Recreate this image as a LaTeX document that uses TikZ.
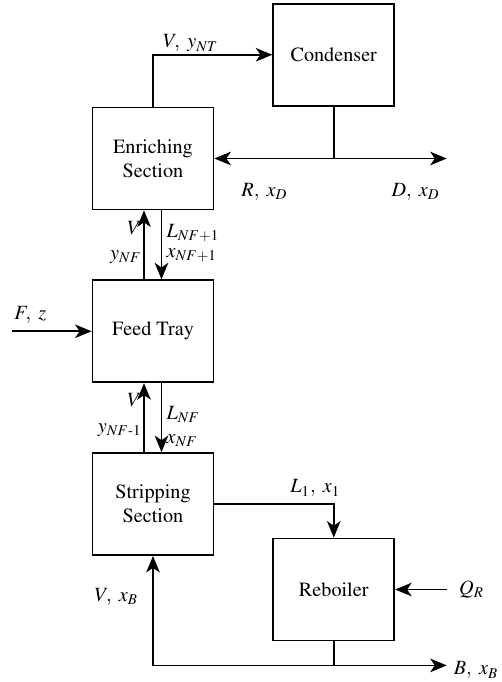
\documentclass[tikz,border=0pt]{standalone}
\usepackage{amsmath}
\usepackage[T1]{fontenc}
\usepackage{mathptmx}
\usetikzlibrary{positioning,arrows.meta}

\begin{document}
\begin{tikzpicture}[node distance=1.38cm, >={Stealth[length=3.3mm,width=2.7mm,inset=0.9mm]},
    block/.style={draw, rectangle, line width=1pt, minimum width=2.42cm, minimum height=2.04cm,
      align=center, inner sep=2pt, font=\fontsize{11.5}{13.5}\selectfont},
    lbl/.style={inner sep=1pt, font=\fontsize{11.5}{13.5}\selectfont},
    flow/.style={->, line width=1pt}]
  \useasboundingbox (-3.06,-10.47) rectangle (6.98,3.17);

  % Nodes
  \node [block] (enrich) {Enriching\\Section};
  \node [block, above right=0cm and 1.16cm of enrich] (cond) {Condenser};
  \node [block, below=of enrich] (feed) {Feed Tray};
  \node [block, below=of feed] (strip) {Stripping\\Section};
  \node [block, right=1.16cm of strip, yshift=-1.71cm] (reb) {Reboiler};

  % Junctions and open ends
  \coordinate (top) at (cond.south |- enrich.east);
  \coordinate [right=2.26cm of top] (dout);
  \coordinate [left=1.6cm of feed] (fin);
  \coordinate [right=1.04cm of reb] (qin);
  \coordinate [below=0.48cm of reb] (bot);
  \coordinate [right=2.26cm of bot] (bout);

  % Arrows
  \draw [flow] (enrich.north) |- node[lbl, pos=0.5, above right, xshift=0.15cm] {$V,\ y_{NT}$} (cond.west);
  \draw [line width=1pt] (cond.south) -- (top);
  \draw [flow] (top) -- (enrich.east);
  \draw [flow] (top) -- (dout);
  \node [lbl, below right=0.45cm and 0.5cm of enrich.east] (rlab) {$R,\ x_D$};
  \node [lbl, below left=0.45cm and 0.1cm of dout] (dlab) {$D,\ x_D$};

  \draw [flow] ([xshift=-0.18cm]feed.north) -- node[lbl, left, pos=0.32] {$y_{NF}$}
    node[lbl, left, pos=0.74] {$V$} ([xshift=-0.18cm]enrich.south);
  \draw [flow] ([xshift=0.17cm]enrich.south) -- node[lbl, right, pos=0.33, xshift=0.05cm] {$L_{NF+1}$}
    node[lbl, right, pos=0.65, xshift=0.05cm] {$x_{NF+1}$} ([xshift=0.17cm]feed.north);

  \draw [flow] (fin) -- node[lbl, pos=0, above right, yshift=0.1cm] {$F,\ z$} (feed.west);

  \draw [flow] ([xshift=-0.18cm]strip.north) -- node[lbl, left, pos=0.32] {$y_{NF\text{-}1}$}
    node[lbl, left, pos=0.75] {$V$} ([xshift=-0.18cm]feed.south);
  \draw [flow] ([xshift=0.17cm]feed.south) -- node[lbl, right, pos=0.46, xshift=0.05cm] {$L_{NF}$}
    node[lbl, right, pos=0.83, xshift=0.05cm] {$x_{NF}$} ([xshift=0.17cm]strip.north);

  \draw [flow] (strip.east) -| (reb.north);
  \node [lbl, above right=0.1cm and 1.48cm of strip.east] (llab) {$L_1,\ x_1$};

  \draw [flow] (qin) -- (reb.east);
  \node [lbl, right=0.2cm of qin] (qlab) {$Q_R$};

  \draw [line width=1pt] (reb.south) -- (bot);
  \draw [flow] (bot) -- (bout);
  \draw [flow] (bot) -| (strip.south);
  \node [lbl, below left=0.6cm and 0.26cm of strip.south] (vlab) {$V,\ x_B$};
  \node [lbl, right=0.1cm of bout, yshift=-0.1cm] (blab) {$B,\ x_B$};
\end{tikzpicture}
\end{document}
